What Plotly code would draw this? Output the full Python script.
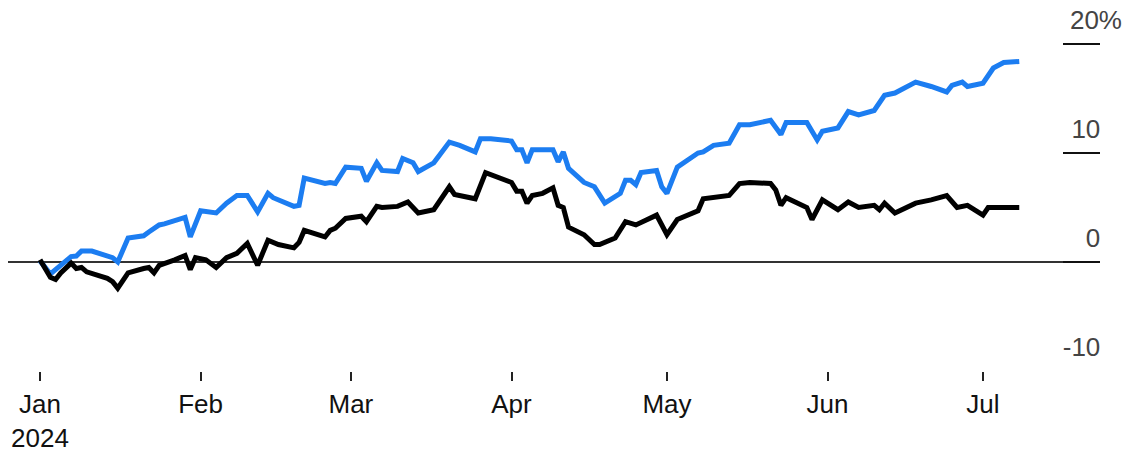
import plotly.graph_objects as go

# Blue series (index A), % change since start of 2024
blue_dates = ["2024-01-01","2024-01-03","2024-01-07","2024-01-08","2024-01-09","2024-01-11",
    "2024-01-15","2024-01-16","2024-01-18","2024-01-21","2024-01-22","2024-01-24","2024-01-25",
    "2024-01-29","2024-01-30","2024-02-01","2024-02-04","2024-02-06","2024-02-08","2024-02-10",
    "2024-02-12","2024-02-14","2024-02-15","2024-02-19","2024-02-20","2024-02-21","2024-02-25",
    "2024-02-26","2024-02-27","2024-02-29","2024-03-03","2024-03-04","2024-03-06","2024-03-07",
    "2024-03-10","2024-03-11","2024-03-13","2024-03-14","2024-03-17","2024-03-20","2024-03-22",
    "2024-03-25","2024-03-26","2024-03-28","2024-04-01","2024-04-02","2024-04-03","2024-04-04",
    "2024-04-05","2024-04-09","2024-04-10","2024-04-11","2024-04-12","2024-04-15","2024-04-17",
    "2024-04-19","2024-04-22","2024-04-23","2024-04-24","2024-04-25","2024-04-26","2024-04-29",
    "2024-04-30","2024-05-01","2024-05-03","2024-05-07","2024-05-08","2024-05-10","2024-05-13",
    "2024-05-15","2024-05-17","2024-05-21","2024-05-23","2024-05-24","2024-05-28","2024-05-30",
    "2024-05-31","2024-06-03","2024-06-05","2024-06-07","2024-06-10","2024-06-12","2024-06-14",
    "2024-06-18","2024-06-21","2024-06-24","2024-06-25","2024-06-27","2024-06-28","2024-07-01",
    "2024-07-03","2024-07-05","2024-07-08"]
blue_values = [0.1,-1.1,0.5,0.55,1.0,1.0,
    0.4,0.0,2.2,2.4,2.75,3.4,3.5,
    4.1,2.3,4.7,4.5,5.4,6.1,6.1,
    4.6,6.3,5.9,5.1,5.2,7.7,7.2,
    7.3,7.2,8.7,8.6,7.4,9.1,8.4,
    8.3,9.5,9.1,8.3,9.1,11.0,10.7,
    10.1,11.3,11.3,11.1,10.3,10.3,9.1,
    10.3,10.3,9.2,10.1,8.6,7.3,6.9,
    5.4,6.3,7.5,7.5,7.1,8.2,8.4,
    6.9,6.3,8.7,10.0,10.1,10.7,10.9,
    12.6,12.6,13.0,11.7,12.8,12.8,11.2,
    12.0,12.3,13.8,13.5,13.9,15.3,15.5,
    16.5,16.1,15.6,16.2,16.5,16.1,16.4,
    17.8,18.3,18.4]

# Black series (index B)
black_dates = ["2024-01-01","2024-01-03","2024-01-04","2024-01-05","2024-01-07","2024-01-08",
    "2024-01-09","2024-01-10","2024-01-14","2024-01-15","2024-01-16","2024-01-18","2024-01-21",
    "2024-01-22","2024-01-23","2024-01-24","2024-01-27","2024-01-29","2024-01-30","2024-01-31",
    "2024-02-02","2024-02-04","2024-02-06","2024-02-08","2024-02-10","2024-02-12","2024-02-14",
    "2024-02-16","2024-02-19","2024-02-20","2024-02-21","2024-02-25","2024-02-26","2024-02-27",
    "2024-02-29","2024-03-03","2024-03-04","2024-03-06","2024-03-07","2024-03-10","2024-03-12",
    "2024-03-14","2024-03-17","2024-03-20","2024-03-21","2024-03-25","2024-03-27","2024-03-28",
    "2024-04-01","2024-04-02","2024-04-03","2024-04-04","2024-04-05","2024-04-07","2024-04-09",
    "2024-04-10","2024-04-11","2024-04-12","2024-04-15","2024-04-17","2024-04-18","2024-04-21",
    "2024-04-23","2024-04-25","2024-04-28","2024-04-29","2024-05-01","2024-05-03","2024-05-07",
    "2024-05-08","2024-05-13","2024-05-15","2024-05-17","2024-05-21","2024-05-22","2024-05-23",
    "2024-05-24","2024-05-28","2024-05-29","2024-05-31","2024-06-03","2024-06-05","2024-06-07",
    "2024-06-10","2024-06-11","2024-06-12","2024-06-14","2024-06-18","2024-06-21","2024-06-24",
    "2024-06-26","2024-06-28","2024-07-01","2024-07-02","2024-07-05","2024-07-08"]
black_values = [0.2,-1.4,-1.6,-1.0,-0.1,-0.6,
    -0.5,-0.9,-1.5,-1.8,-2.4,-1.0,-0.6,
    -0.5,-1.0,-0.3,0.2,0.6,-0.7,0.4,
    0.2,-0.5,0.4,0.8,1.7,-0.3,2.0,
    1.6,1.3,1.8,2.9,2.3,2.9,3.1,
    4.0,4.2,3.7,5.1,5.0,5.1,5.5,
    4.5,4.8,6.9,6.2,5.8,8.2,8.0,
    7.3,6.5,6.5,5.4,6.1,6.3,6.8,
    5.2,5.0,3.2,2.5,1.6,1.6,2.2,
    3.7,3.4,4.0,4.3,2.5,3.9,4.7,
    5.8,6.1,7.2,7.3,7.2,6.6,5.2,
    5.9,5.0,3.9,5.7,4.8,5.5,5.0,
    5.2,4.8,5.4,4.5,5.4,5.7,6.1,
    5.0,5.2,4.3,5.0,5.0,5.0]

x_tick_vals = ["2024-01-01","2024-02-01","2024-03-01","2024-04-01","2024-05-01","2024-06-01","2024-07-01"]
x_tick_text = ["Jan<br>2024","Feb","Mar","Apr","May","Jun","Jul"]
y_tick_vals = [-10, 0, 10, 20]
NB = "\u00a0\u00a0\u00a0"
y_tick_text = ["-10" + NB, "0" + NB, "10" + NB, "20%"]

FONT = "Liberation Sans, Arial, Helvetica, sans-serif"

fig = go.Figure()
fig.add_trace(go.Scatter(x=blue_dates, y=blue_values, mode="lines",
                         line=dict(color="#1C7DF1", width=5), name="A"))
fig.add_trace(go.Scatter(x=black_dates, y=black_values, mode="lines",
                         line=dict(color="#000000", width=5), name="B"))

fig.update_layout(
    width=1128, height=451,
    margin=dict(l=8, r=28, t=4, b=80),
    paper_bgcolor="white", plot_bgcolor="white",
    showlegend=False,
    font=dict(family=FONT, size=26, color="#111111"),
    xaxis=dict(
        type="date", automargin=False,
        range=["2023-12-25 19:40", "2024-07-23 14:00"],
        tickvals=x_tick_vals, ticktext=x_tick_text,
        showgrid=False, zeroline=False, showline=False,
        ticks="outside", ticklen=9, tickwidth=1.5, tickcolor="#222222",
        ticklabelstandoff=1,
    ),
    yaxis=dict(
        side="right", automargin=False,
        range=[-10, 23.67],
        tickvals=y_tick_vals, ticktext=y_tick_text,
        showgrid=False, showline=False,
        zeroline=True, zerolinecolor="#333333", zerolinewidth=1.5,
        ticks="inside", ticklen=37, tickwidth=1.8, tickcolor="#111111",
        ticklabelposition="inside top",
        ticklabelstandoff=-25,
        ticklabelshift=-5,
    ),
)

fig.write_html("out.html", config={"displayModeBar": False},
               post_script="document.body.style.margin='0';")
